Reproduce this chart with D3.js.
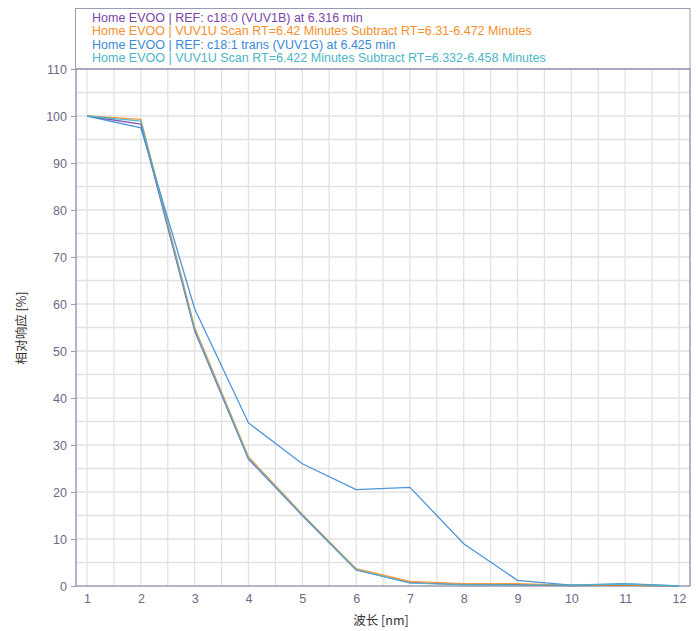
<!DOCTYPE html>
<html>
<head>
<meta charset="utf-8">
<script src="https://cdn.jsdelivr.net/npm/d3@7"></script>
<style>
  body { margin: 0; background: #fff; }
  svg { display: block; font-family: "Liberation Sans", Arial, sans-serif; }
</style>
</head>
<body>
<div id="chart"></div>
<script>
const wavelengths = [1, 2, 3, 4, 5, 6, 7, 8, 9, 10, 11, 12];
const xTicks = [1, 2, 3, 4, 5, 6, 7, 8, 9, 10, 11, 12];
const yTicks = [0, 10, 20, 30, 40, 50, 60, 70, 80, 90, 100, 110];

const refC180 = [100, 98.3, 54.3, 27.0, 15.0, 3.4, 0.7, 0.3, 0.3, 0.1, 0.2, 0];
const scanA = [100, 99.3, 55.0, 27.5, 15.3, 3.7, 1.0, 0.5, 0.5, 0.2, 0.2, 0];
const refC181 = [100, 97.5, 59.0, 34.7, 26.0, 20.5, 21.0, 9.0, 1.2, 0.2, 0.5, 0];
const scanB = [100, 98.9, 54.6, 27.2, 15.1, 3.5, 0.6, 0.3, 0.2, 0.2, 0.4, 0];

const series = [
  { name: 'Home EVOO | REF: c18:0 (VUV1B) at 6.316 min', values: refC180, color: '#7a44aa' },
  { name: 'Home EVOO | VUV1U Scan RT=6.42 Minutes Subtract RT=6.31-6.472 Minutes', values: scanA, color: '#f58f2c' },
  { name: 'Home EVOO | REF: c18:1 trans (VUV1G) at 6.425 min', values: refC181, color: '#3b8ad6' },
  { name: 'Home EVOO | VUV1U Scan RT=6.422 Minutes Subtract RT=6.332-6.458 Minutes', values: scanB, color: '#4bb6c6' }
];

const width = 698, height = 631;
const mLeft = 76, mRight = 690, mTop = 69, mBottom = 586;
const axisColor = '#9a9ab4', labelColor = '#6a6a88';

const svg = d3.select('#chart').append('svg')
  .attr('width', width)
  .attr('height', height);

const x = d3.scaleLinear().domain([0.795, 12.205]).range([mLeft, mRight]);
const y = d3.scaleLinear().domain([0, 110]).range([mBottom, mTop]);

// grid (minor every half step / every 5)
const gx = d3.range(1, 12.01, 0.5);
const gy = d3.range(5, 110, 5);
svg.append('g').selectAll('line').data(gx).enter().append('line')
  .attr('x1', d => x(d)).attr('x2', d => x(d))
  .attr('y1', mTop).attr('y2', mBottom)
  .attr('stroke', '#e2e2e2').attr('stroke-width', 1.3);
svg.append('g').selectAll('line').data(gy).enter().append('line')
  .attr('x1', mLeft).attr('x2', mRight)
  .attr('y1', d => y(d)).attr('y2', d => y(d))
  .attr('stroke', '#e2e2e2').attr('stroke-width', 1.3);

// legend box
svg.append('rect')
  .attr('x', 75.5).attr('y', 8.5)
  .attr('width', mRight - 75.5).attr('height', mTop - 8.5)
  .attr('fill', 'none').attr('stroke', axisColor);

svg.append('g').selectAll('text').data(series).enter().append('text')
  .attr('x', 92)
  .attr('y', (d, i) => 22 + i * 13.3)
  .attr('fill', d => d.color)
  .attr('font-size', '12.5px')
  .text(d => d.name);

// plot frame
svg.append('rect')
  .attr('x', mLeft).attr('y', mTop)
  .attr('width', mRight - mLeft).attr('height', mBottom - mTop)
  .attr('fill', 'none').attr('stroke', axisColor).attr('stroke-width', 1.5);

// axes
const yAxis = d3.axisLeft(y).tickValues(yTicks).tickSize(5).tickPadding(4);
const xAxis = d3.axisBottom(x).tickValues(xTicks).tickSize(0).tickPadding(8);

const ya = svg.append('g').attr('transform', `translate(${mLeft},0)`).call(yAxis);
const xa = svg.append('g').attr('transform', `translate(0,${mBottom})`).call(xAxis);
[ya, xa].forEach(a => {
  a.select('.domain').remove();
  a.selectAll('line').attr('stroke', axisColor);
  a.selectAll('text').attr('fill', labelColor).attr('font-size', '12.5px')
    .attr('font-family', '"Liberation Sans", Arial, sans-serif');
});

// lines
const line = d3.line()
  .x((d, i) => x(wavelengths[i]))
  .y(d => y(d));

svg.append('g').selectAll('path').data(series).enter().append('path')
  .attr('d', d => line(d.values))
  .attr('fill', 'none')
  .attr('stroke', d => d.color)
  .attr('stroke-width', 1.3)
  .attr('stroke-opacity', 0.9);

// axis titles
svg.append('text')
  .attr('x', 381).attr('y', 625)
  .attr('text-anchor', 'middle')
  .attr('font-size', '12.5px')
  .attr('fill', '#333')
  .attr('font-family', '"Noto Sans CJK SC", sans-serif')
  .text('波长 [nm]');

svg.append('text')
  .attr('transform', 'translate(26,328) rotate(-90)')
  .attr('text-anchor', 'middle')
  .attr('font-size', '12.5px')
  .attr('fill', '#333')
  .attr('font-family', '"Noto Sans CJK SC", sans-serif')
  .text('相对响应 [%]');
</script>
</body>
</html>
